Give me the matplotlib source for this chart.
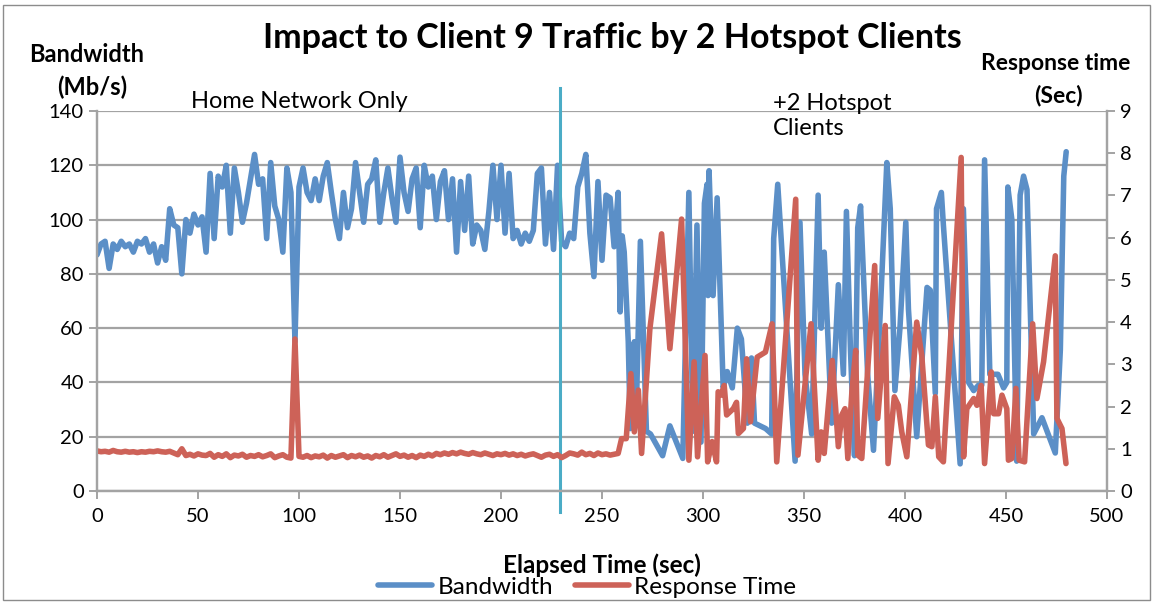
import matplotlib
matplotlib.use('Agg')
import matplotlib.pyplot as plt
from matplotlib.patches import Rectangle

plt.rcParams['font.family'] = ['Lato', 'DejaVu Sans']

# Home network only phase: sampled every ~2 s
t_dense = [0, 2, 4, 6, 8, 10, 12, 14, 16, 18,
           20, 22, 24, 26, 28, 30, 32, 34, 36, 38,
           40, 42, 44, 46, 48, 50, 52, 54, 56, 58,
           60, 62, 64, 66, 68, 70, 72, 74, 76, 78,
           80, 82, 84, 86, 88, 90, 92, 94, 96, 98,
           100, 102, 104, 106, 108, 110, 112, 114, 116, 118,
           120, 122, 124, 126, 128, 130, 132, 134, 136, 138,
           140, 142, 144, 146, 148, 150, 152, 154, 156, 158,
           160, 162, 164, 166, 168, 170, 172, 174, 176, 178,
           180, 182, 184, 186, 188, 190, 192, 194, 196, 198,
           200, 202, 204, 206, 208, 210, 212, 214, 216, 218,
           220, 222, 224, 226, 228, 230, 232, 234, 236, 238,
           240, 242, 244, 246, 248, 250, 252, 254, 256, 258]

bw_dense = [87, 91, 92, 82, 91, 89, 92, 90, 91, 88,
            92, 91, 93, 88, 91, 84, 90, 85, 104, 98,
            97, 80, 100, 95, 102, 98, 101, 88, 117, 93,
            116, 112, 120, 95, 119, 110, 99, 106, 115, 124,
            113, 115, 93, 121, 105, 100, 88, 119, 110, 55,
            112, 119, 110, 107, 115, 107, 116, 121, 110, 100,
            93, 110, 97, 104, 121, 110, 99, 113, 115, 122,
            99, 110, 119, 108, 99, 123, 110, 103, 115, 119,
            97, 120, 112, 116, 100, 114, 118, 100, 115, 88,
            114, 96, 116, 91, 98, 96, 89, 103, 120, 100,
            120, 95, 117, 93, 96, 91, 95, 92, 96, 117,
            119, 91, 110, 89, 120, 92, 90, 95, 93, 112,
            117, 124, 95, 79, 114, 85, 109, 108, 90, 110]

rt_dense = [0.95, 0.93, 0.94, 0.92, 0.96, 0.93, 0.92, 0.94, 0.92, 0.93,
            0.91, 0.93, 0.92, 0.94, 0.93, 0.95, 0.93, 0.92, 0.94, 0.90,
            0.86, 1.00, 0.84, 0.87, 0.83, 0.88, 0.85, 0.84, 0.89, 0.80,
            0.86, 0.82, 0.88, 0.79, 0.85, 0.83, 0.87, 0.80, 0.84, 0.82,
            0.86, 0.81, 0.84, 0.88, 0.79, 0.83, 0.86, 0.80, 0.78, 3.60,
            0.82, 0.80, 0.84, 0.79, 0.83, 0.81, 0.85, 0.78, 0.84, 0.80,
            0.83, 0.86, 0.79, 0.84, 0.81, 0.85, 0.80, 0.83, 0.78, 0.84,
            0.81, 0.86, 0.80, 0.84, 0.88, 0.82, 0.85, 0.80, 0.84, 0.79,
            0.85, 0.82, 0.87, 0.83, 0.89, 0.86, 0.90, 0.87, 0.91, 0.88,
            0.92, 0.89, 0.87, 0.91, 0.88, 0.86, 0.90, 0.87, 0.84, 0.88,
            0.86, 0.89, 0.85, 0.88, 0.84, 0.87, 0.83, 0.86, 0.88, 0.84,
            0.80, 0.85, 0.87, 0.82, 0.86, 0.79, 0.84, 0.90, 0.88, 0.85,
            0.92, 0.86, 0.89, 0.84, 0.90, 0.86, 0.88, 0.85, 0.87, 0.89]

# +2 hotspot clients phase: samples get sparse
t_bw_sparse = [259, 260, 261, 263, 264, 266, 267, 269, 272, 274,
               280, 283.6, 290, 293, 295, 297, 299, 300.7, 302, 302.5,
               303, 305, 307, 310, 312, 314.5, 317, 319, 322, 324,
               325.5, 331, 334, 335, 337, 345.6, 348, 350.5, 353.8, 357,
               358.5, 360, 363.7, 367, 369.5, 371, 373, 375, 376.6, 378,
               381.5, 384.4, 387.7, 391, 392.7, 395, 397.5, 400.4, 401.7, 405.8,
               410.9, 412.5, 415, 415.6, 418, 419, 427.3, 428.9, 431.5, 434,
               436.4, 438, 439.4, 442, 446, 448.8, 450.4, 450.9, 452.9, 455.3,
               457, 458.7, 460.4, 463.7, 467.8, 474.4, 476.9, 478.6, 479.8]
bw_sparse = [66, 94, 88, 55, 23, 55, 30, 92, 22, 21,
             13, 24, 12, 110, 22, 98, 18, 106, 113, 72,
             118, 72, 108, 38, 44, 38, 60, 56, 25, 49,
             25, 23, 21, 93, 113, 11, 99, 43, 21, 109,
             60, 88, 25, 76, 43, 103, 52, 13, 97, 105,
             43, 15, 65, 121, 104, 37, 60, 99, 67, 20,
             75, 74, 36, 104, 110, 98, 10, 104, 40, 37,
             39, 39, 122, 43, 43, 38, 40, 112, 100, 11,
             109, 116, 111, 21, 27, 14, 52, 116, 125]

t_rt_sparse = [259.7, 262, 264.3, 266, 268, 269.6, 273.7, 279.5, 283.6, 289.4,
               293, 295.6, 297.3, 301, 302.3, 304.5, 306.7, 307.5, 309, 310.5,
               311.7, 315, 316.6, 317.5, 320, 321.6, 323.5, 326.8, 330.9, 334.2,
               336.5, 345.9, 347, 353.5, 357, 358.5, 360, 364, 367, 368.7,
               370.3, 371.7, 373.7, 375.6, 376.6, 378.6, 385, 386.5, 390.2, 391.6,
               394.7, 396.7, 398.4, 400.9, 405.8, 408.3, 411.6, 413.3, 415, 416.7,
               419, 427.8, 429, 430.6, 434, 435.6, 437.7, 439.4, 442.7, 443.9,
               446.3, 448, 450.4, 451.2, 452.9, 454.9, 456.5, 459.2, 463.2, 465.3,
               468.6, 474.4, 475.2, 477.7, 479.7]
rt_sparse = [1.24, 1.24, 2.78, 1.40, 2.39, 0.89, 3.84, 6.09, 3.37, 6.44,
             0.73, 3.06, 0.81, 3.21, 0.69, 1.17, 0.69, 2.35, 2.27, 2.50,
             1.80, 1.95, 2.10, 1.36, 1.48, 3.13, 1.64, 3.17, 3.29, 3.96,
             0.69, 6.91, 0.85, 3.96, 0.73, 1.40, 0.89, 3.09, 1.05, 1.80,
             1.95, 0.77, 2.35, 3.33, 0.85, 0.77, 5.34, 1.72, 3.92, 0.65,
             2.23, 2.03, 1.40, 0.81, 4.00, 3.21, 1.09, 1.05, 2.23, 0.81,
             0.69, 7.90, 0.81, 1.95, 2.19, 2.03, 2.50, 0.65, 2.82, 1.83,
             1.83, 2.27, 1.95, 0.73, 0.77, 2.43, 0.73, 0.69, 3.96, 2.19,
             3.06, 5.57, 1.72, 1.48, 0.65]

t_bw = t_dense + t_bw_sparse
bandwidth = bw_dense + bw_sparse
t_rt = t_dense + t_rt_sparse
response = rt_dense + rt_sparse

hotspot_start = 229.2

blue = '#5b8fc7'
red = '#cd6258'
grid_c = '#a3a3a3'

fig = plt.figure(figsize=(11.53, 6.02), dpi=100)
ax = fig.add_axes([97 / 1153, 1 - 491 / 602, 1010 / 1153, 380 / 602])
ax2 = ax.twinx()

ax.plot(t_bw, bandwidth, color=blue, lw=4.0, solid_joinstyle='round', solid_capstyle='round',
        label='Bandwidth')
ax2.plot(t_rt, response, color=red, lw=4.0, solid_joinstyle='round', solid_capstyle='round',
         label='Response Time')

ax.set_xlim(0, 500)
ax.set_ylim(0, 140)
ax2.set_ylim(0, 9)
ax.set_xticks(range(0, 501, 50))
ax.set_yticks(range(0, 141, 20))
ax2.set_yticks(range(0, 10))

ax.grid(axis='y', color=grid_c, lw=1.6)
ax.set_axisbelow(True)
for a in (ax, ax2):
    for s in a.spines.values():
        s.set_color(grid_c)
        s.set_linewidth(1.6)
    a.spines['top'].set_visible(False)
    a.tick_params(colors=grid_c, labelcolor='black', labelsize=14.5, length=6, width=1.4)
ax.tick_params(axis='x', pad=6)

# vertical marker where the hotspot clients join
ax.plot([hotspot_start, hotspot_start], [-0.055, 1.06], color='#4bacc6', lw=2.2,
        transform=ax.get_xaxis_transform(), clip_on=False)

fig.text(612 / 1153, 1 - 38 / 602, 'Impact to Client 9 Traffic by 2 Hotspot Clients',
         ha='center', va='center', fontsize=24.5, fontweight='bold')
fig.text(87 / 1153, 1 - 55 / 602, 'Bandwidth', ha='center', va='center', fontsize=17, fontweight='bold')
fig.text(92 / 1153, 1 - 87 / 602, '(Mb/s)', ha='center', va='center', fontsize=17, fontweight='bold')
fig.text(1056 / 1153, 1 - 64 / 602, 'Response time', ha='center', va='center', fontsize=16.5,
         fontweight='bold')
fig.text(1058 / 1153, 1 - 96 / 602, '(Sec)', ha='center', va='center', fontsize=16.5, fontweight='bold')
fig.text(191 / 1153, 1 - 102 / 602, 'Home Network Only', ha='left', va='center', fontsize=17)
fig.text(773 / 1153, 1 - 116 / 602, '+2 Hotspot\nClients', ha='left', va='center', fontsize=17,
         linespacing=1.25)
fig.text(602 / 1153, 1 - 565 / 602, 'Elapsed Time (sec)', ha='center', va='center', fontsize=17.5,
         fontweight='bold')

h1, l1 = ax.get_legend_handles_labels()
h2, l2 = ax2.get_legend_handles_labels()
fig.legend(h1 + h2, l1 + l2, loc='center', bbox_to_anchor=(587 / 1153, 1 - 587 / 602), ncol=2,
           frameon=False, fontsize=17.5, handlelength=2.25, handletextpad=0.2, columnspacing=0.9,
           borderpad=0)

fig.patches.append(Rectangle((3 / 1153, 2 / 602), 1147 / 1153, 595 / 602, transform=fig.transFigure,
                             fill=False, ec='#8c8c8c', lw=1))

fig.savefig('out.png', dpi=100)
